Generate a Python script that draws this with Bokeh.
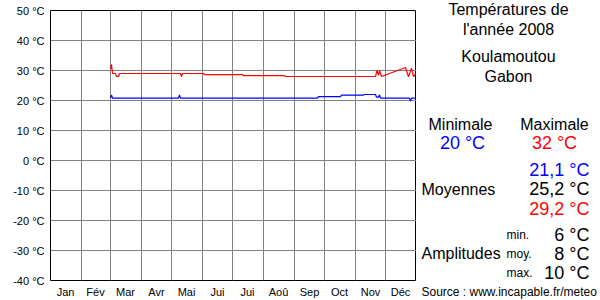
from bokeh.plotting import figure
from bokeh.models import Range1d, FixedTicker, Label
from bokeh.layouts import row
from bokeh.embed import file_html
from bokeh.resources import INLINE

# ---- data ----
month_names = ["Jan", "Fév", "Mar", "Avr", "Mai", "Jui", "Jui", "Aoû", "Sep", "Oct", "Nov", "Déc"]
month_starts = [0, 31, 60, 91, 121, 152, 182, 213, 244, 274, 305, 335, 366]
y_ticks = [-40, -30, -20, -10, 0, 10, 20, 30, 40, 50]

days_max = [60, 61, 62, 65, 66, 68, 69, 130, 131, 132, 153, 154, 192, 193, 234, 235,
            325, 326.5, 328, 329, 331, 355, 358, 361, 363, 365]
tmax = [30.5, 32, 29, 29, 28, 28, 29, 29, 28, 29, 29, 28.6, 28.6, 28.3, 28.3, 28.0,
        28.0, 30, 28.4, 30, 28, 31, 27.9, 30.8, 28, 28.8]

days_min = [60, 61, 62, 128, 129, 130, 267, 268, 290, 291, 313, 314, 325, 326, 328,
            329, 330, 359, 360, 361, 365]
tmin = [20.8, 21.9, 20.8, 20.8, 21.9, 20.8, 20.8, 21.3, 21.3, 21.8, 21.8, 22.0, 22.0,
        21.1, 21.1, 21.9, 20.8, 20.8, 19.8, 20.8, 20.8]

title_lines = ["Températures de", "l'année 2008"]
place_lines = ["Koulamoutou", "Gabon"]
extreme_labels = ["Minimale", "Maximale"]
extreme_values = ["20 °C", "32 °C"]
mean_values = ["21,1 °C", "25,2 °C", "29,2 °C"]
ampl_names = ["min.", "moy.", "max."]
ampl_values = ["6 °C", "8 °C", "10 °C"]
source_text = "Source : www.incapable.fr/meteo"

FONT = "Liberation Sans"

p = figure(width=416, height=300, output_backend="svg", toolbar_location=None,
           x_range=Range1d(0, 366), y_range=Range1d(-40, 50),
           min_border_left=50, min_border_right=0, min_border_top=10, min_border_bottom=20)
p.frame_align = False
p.background_fill_color = "white"
p.border_fill_color = "white"
p.outline_line_color = "black"
p.outline_line_width = 1
p.outline_line_alpha = 1

# grids
p.xgrid.ticker = FixedTicker(ticks=month_starts)
p.ygrid.ticker = FixedTicker(ticks=y_ticks)
for g in (p.xgrid, p.ygrid):
    g.grid_line_color = "#808080"
    g.grid_line_width = 1
    g.grid_line_alpha = 1

# axes
p.yaxis.ticker = FixedTicker(ticks=y_ticks)
p.yaxis.major_label_overrides = {t: f"{t} °C" for t in y_ticks}
month_centers = [int((month_starts[i] + month_starts[i + 1]) / 2) for i in range(12)]
p.xaxis.ticker = FixedTicker(ticks=month_centers)
p.xaxis.major_label_overrides = {c: n for c, n in zip(month_centers, month_names)}
for ax in (p.xaxis, p.yaxis):
    ax.axis_line_color = None
    ax.major_tick_line_color = None
    ax.minor_tick_line_color = None
    ax.major_tick_out = 0
    ax.major_tick_in = 0
    ax.major_label_text_font = FONT
    ax.major_label_text_font_size = "11px"
    ax.major_label_text_color = "black"
p.yaxis.major_label_standoff = 6
p.xaxis.major_label_standoff = 5

# data lines
p.line(days_max, tmax, line_color="#ff0000", line_width=1.2)
p.line(days_min, tmin, line_color="#0000ff", line_width=1.2)

# ---- right-hand text panel: a figure whose ranges are its own pixels ----
PANEL_X0 = 416
DY = -6.5
q = figure(width=184, height=300, output_backend="svg", toolbar_location=None,
           x_range=Range1d(0, 184), y_range=Range1d(300, 0),
           x_axis_location=None, y_axis_location=None,
           min_border=0, min_border_left=0, min_border_right=0,
           min_border_top=0, min_border_bottom=0)
q.frame_align = False
q.grid.visible = False
q.outline_line_color = None
q.background_fill_color = "white"
q.border_fill_color = "white"


def add(text, xpx, ypx, size, align="center", color="black"):
    q.add_layout(Label(x=xpx - PANEL_X0, y=ypx + DY, text=text, text_align=align,
                       text_baseline="alphabetic", text_font=FONT,
                       text_font_size=size, text_color=color))


add(title_lines[0], 508, 15, "16px")
add(title_lines[1], 508, 35, "16px")
add(place_lines[0], 508, 62, "16px")
add(place_lines[1], 508, 82, "16px")
add(extreme_labels[0], 460, 130, "16px")
add(extreme_labels[1], 554, 130, "16px")
add(extreme_values[0], 462, 149, "18px", color="#0000ff")
add(extreme_values[1], 554, 149, "18px", color="#ff0000")
mean_colors = ["#0000ff", "black", "#ff0000"]
for v, yb, c in zip(mean_values, [176, 195, 215], mean_colors):
    add(v, 589, yb, "18px", align="right", color=c)
add("Moyennes", 421, 195, "16px", align="left")
for n, v, yb in zip(ampl_names, ampl_values, [241, 260, 279]):
    add(n, 506, yb, "12px", align="left")
    add(v, 589, yb, "18px", align="right")
add("Amplitudes", 421, 259, "16px", align="left")
add(source_text, 421, 298, "12px", align="left")

layout = row(p, q, spacing=0)
open("out.html", "w").write(file_html(layout, INLINE))
